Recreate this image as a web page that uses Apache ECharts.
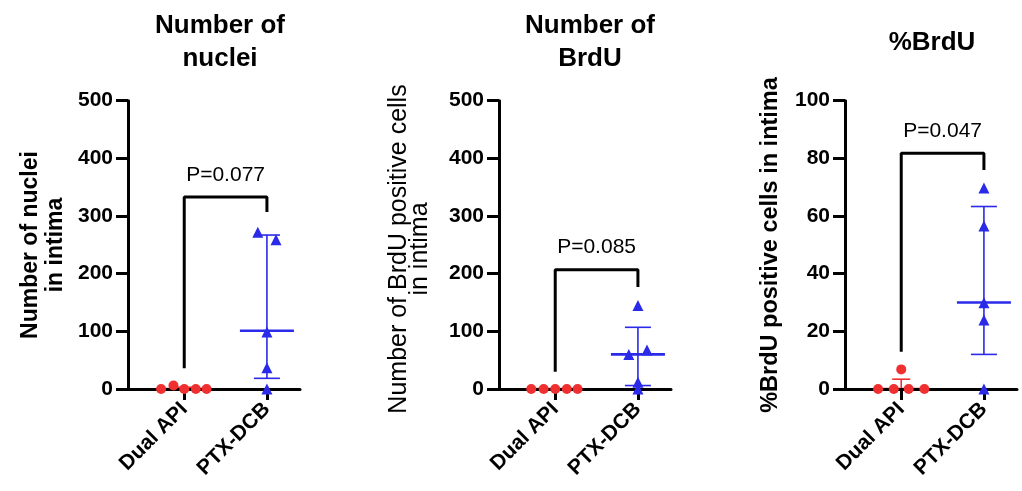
<!DOCTYPE html>
<html>
<head>
<meta charset="utf-8">
<script src="https://cdn.jsdelivr.net/npm/echarts@6/dist/echarts.min.js"></script>
<style>html,body{margin:0;padding:0;background:#fff}#c{width:1022px;height:491px}</style>
</head>
<body>
<div id="c"></div>
<script>
// ---------- data ----------
const categories = ['Dual API', 'PTX-DCB'];

// Panel 1: Number of nuclei in intima
const p1DualValues = [0, 6, 0, 0, 0];
const p1DualOffsets = [-0.28, -0.13, 0, 0.14, 0.27];
const p1PtxValues = [272, 259, 99, 37, 0];
const p1PtxOffsets = [-0.11, 0.11, 0, 0, 0];
const p1DualSummary = [1, 0, 0, 3];       // [category pos, median, q1, q3]
const p1PtxSummary = [2, 101, 18.5, 267];
const p1Bracket = [[1, 36], [1, 333], [2, 333], [2, 307]];
const p1PText = 'P=0.077';
const p1PPos = [1.5, 370];

// Panel 2: Number of BrdU positive cells in intima
const p2DualValues = [0, 0, 0, 0, 0];
const p2DualOffsets = [-0.29, -0.14, 0, 0.14, 0.27];
const p2PtxValues = [145, 60, 67.5, 11.6, 0];
const p2PtxOffsets = [0, -0.11, 0.11, 0, 0];
const p2DualSummary = [1, 0, 0, 0];
const p2PtxSummary = [2, 60, 6, 107];
const p2Bracket = [[1, 30], [1, 207], [2, 207], [2, 177]];
const p2PText = 'P=0.085';
const p2PPos = [1.5, 246];

// Panel 3: %BrdU positive cells in intima
const p3DualValues = [0, 0, 6.8, 0, 0];
const p3DualOffsets = [-0.28, -0.09, 0, 0.09, 0.28];
const p3PtxValues = [69.7, 56.5, 29.9, 23.9, 0];
const p3PtxOffsets = [0, 0, 0, 0, 0];
const p3DualSummary = [1, 0, 0, 3.4];
const p3PtxSummary = [2, 30, 12, 63.3];
const p3Bracket = [[1, 12.9], [1, 81.8], [2, 81.8], [2, 76]];
const p3PText = 'P=0.047';
const p3PPos = [1.5, 89.3];

const yTicks1 = [0, 100, 200, 300, 400, 500];
const yTicks3 = [0, 20, 40, 60, 80, 100];

// ---------- styling ----------
const FONT = 'Liberation Sans';
const RED = '#f03030';
const BLUE = '#2a2ae8';

const chart = echarts.init(document.getElementById('c'), null, {renderer: 'canvas'});

const panels = [
  {left: 128, dual: [p1DualValues, p1DualOffsets], ptx: [p1PtxValues, p1PtxOffsets],
   ds: p1DualSummary, ps: p1PtxSummary, br: p1Bracket, pt: p1PText, pp: p1PPos, ticks: yTicks1},
  {left: 499, dual: [p2DualValues, p2DualOffsets], ptx: [p2PtxValues, p2PtxOffsets],
   ds: p2DualSummary, ps: p2PtxSummary, br: p2Bracket, pt: p2PText, pp: p2PPos, ticks: yTicks1},
  {left: 845, dual: [p3DualValues, p3DualOffsets], ptx: [p3PtxValues, p3PtxOffsets],
   ds: p3DualSummary, ps: p3PtxSummary, br: p3Bracket, pt: p3PText, pp: p3PPos, ticks: yTicks3}
];

function summaryRender(color, medHalf, capHalf) {
  return function (params, api) {
    const x = api.value(0), m = api.value(1), lo = api.value(2), hi = api.value(3);
    const pm = api.coord([x, m]), pl = api.coord([x, lo]), ph = api.coord([x, hi]);
    const thin = {stroke: color, lineWidth: 1.6};
    const thick = {stroke: color, lineWidth: 2.6};
    return {type: 'group', children: [
      {type: 'line', shape: {x1: pl[0], y1: pl[1], x2: ph[0], y2: ph[1]}, style: thin},
      {type: 'line', shape: {x1: pl[0] - capHalf, y1: pl[1], x2: pl[0] + capHalf, y2: pl[1]}, style: thin},
      {type: 'line', shape: {x1: ph[0] - capHalf, y1: ph[1], x2: ph[0] + capHalf, y2: ph[1]}, style: thin},
      {type: 'line', shape: {x1: pm[0] - medHalf, y1: pm[1], x2: pm[0] + medHalf, y2: pm[1]}, style: thick}
    ]};
  };
}

const grid = [], xAxis = [], yAxis = [], series = [];
panels.forEach((p, i) => {
  grid.push({left: p.left, top: 100.7, width: 172, height: 288.3, containLabel: false});
  xAxis.push({
    type: 'value', gridIndex: i, min: 0.32, max: 2.4, z: 3,
    axisLine: {show: true, onZero: false, lineStyle: {color: '#000', width: 3}},
    axisTick: {show: true, customValues: [1, 2], length: 11, lineStyle: {color: '#000', width: 3}},
    axisLabel: {show: true, customValues: [1, 2], rotate: 45, margin: 17,
      formatter: v => categories[Math.round(v) - 1] || '',
      fontFamily: FONT, fontWeight: 'bold', fontSize: 21, color: '#000'},
    splitLine: {show: false}
  });
  const maxY = p.ticks[p.ticks.length - 1];
  yAxis.push({
    type: 'value', gridIndex: i, min: p.ticks[0], max: maxY, interval: p.ticks[1] - p.ticks[0],
    axisLine: {show: true, lineStyle: {color: '#000', width: 3}},
    axisTick: {show: true, length: 12, lineStyle: {color: '#000', width: 3}},
    axisLabel: {show: true, margin: 15, fontFamily: FONT, fontWeight: 'bold', fontSize: 21, color: '#000'},
    splitLine: {show: false}
  });
  series.push({
    type: 'custom', xAxisIndex: i, yAxisIndex: i, z: 2, silent: true,
    renderItem: summaryRender(RED, 27, 9), data: [p.ds]
  });
  series.push({
    type: 'custom', xAxisIndex: i, yAxisIndex: i, z: 2, silent: true,
    renderItem: summaryRender(BLUE, 27, 13), data: [p.ps]
  });
  series.push({
    type: 'line', xAxisIndex: i, yAxisIndex: i, z: 2, silent: true,
    data: p.br, symbol: 'none', lineStyle: {color: '#000', width: 3}
  });
  series.push({
    type: 'scatter', xAxisIndex: i, yAxisIndex: i, z: 5, silent: true,
    symbol: 'circle', symbolSize: 10, itemStyle: {color: RED, opacity: 1},
    data: p.dual[0].map((v, k) => [1 + p.dual[1][k], v])
  });
  series.push({
    type: 'scatter', xAxisIndex: i, yAxisIndex: i, z: 5, silent: true,
    symbol: 'triangle', symbolSize: 11, itemStyle: {color: BLUE, opacity: 1},
    data: p.ptx[0].map((v, k) => [2 + p.ptx[1][k], v])
  });
  series.push({
    type: 'scatter', xAxisIndex: i, yAxisIndex: i, z: 5, silent: true,
    symbolSize: 0, itemStyle: {color: '#000', opacity: 1}, data: [p.pp],
    label: {show: true, position: 'inside', formatter: () => p.pt,
      fontFamily: FONT, fontSize: 21, color: '#000', textBorderWidth: 0, opacity: 1}
  });
});

const titleStyle = {fontFamily: FONT, fontWeight: 'bold', fontSize: 26, lineHeight: 33, color: '#000'};

chart.setOption({
  animation: false,
  backgroundColor: '#fff',
  title: [
    {text: 'Number of\nnuclei', left: 215, top: 4, textAlign: 'center', textStyle: titleStyle},
    {text: 'Number of\nBrdU', left: 585, top: 4, textAlign: 'center', textStyle: titleStyle},
    {text: '%BrdU', left: 927, top: 21, textAlign: 'center', textStyle: titleStyle}
  ],
  grid, xAxis, yAxis, series,
  graphic: [
    {type: 'text', x: 43, y: 245, rotation: Math.PI / 2,
     style: {text: 'Number of nuclei\nin intima', textAlign: 'center', textVerticalAlign: 'middle',
       font: 'bold 23px "Liberation Sans"', lineHeight: 25, fill: '#000'}},
    {type: 'text', x: 410, y: 249, rotation: Math.PI / 2,
     style: {text: 'Number of BrdU positive cells\nin intima', textAlign: 'center', textVerticalAlign: 'middle',
       font: '25px "Liberation Sans"', lineHeight: 21, fill: '#000'}},
    {type: 'text', x: 771, y: 245, rotation: Math.PI / 2,
     style: {text: '%BrdU positive cells in intima', textAlign: 'center', textVerticalAlign: 'middle',
       font: 'bold 23.5px "Liberation Sans"', fill: '#000'}}
  ]
});
</script>
</body>
</html>
